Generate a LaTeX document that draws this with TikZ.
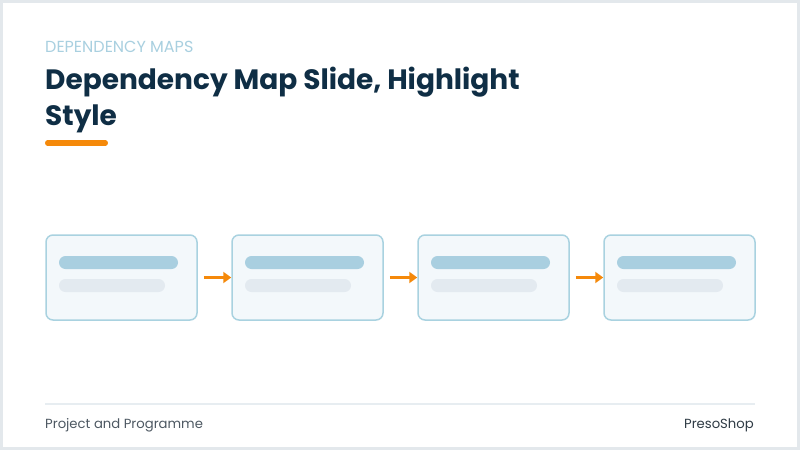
\documentclass[tikz,border=0pt]{standalone}
\usepackage{fontspec}
\setmainfont{Poppins}
\usetikzlibrary{arrows.meta}
\definecolor{navy}{HTML}{0F2E45}
\definecolor{kicker}{HTML}{A9D0E0}
\definecolor{accent}{HTML}{F5890A}
\definecolor{cardline}{HTML}{A9D2E0}
\definecolor{cardfill}{HTML}{F3F8FB}
\definecolor{barone}{HTML}{A9CFE0}
\definecolor{bartwo}{HTML}{E3EAF0}
\definecolor{rulegray}{HTML}{E7EDF1}
\definecolor{footgray}{HTML}{4D5862}
\definecolor{brandgray}{HTML}{2F3B45}
\definecolor{framegray}{HTML}{E3E8EC}
\tikzset{
  card/.style={draw=cardline, line width=1.5pt, fill=cardfill, rounded corners=7pt,
    minimum width=151pt, minimum height=85pt, inner sep=0pt},
  bar/.style={fill=barone, rounded corners=6.5pt, minimum width=119pt, minimum height=13pt, inner sep=0pt},
  subbar/.style={fill=bartwo, rounded corners=6.5pt, minimum width=106pt, minimum height=13pt, inner sep=0pt},
  flow/.style={draw=accent, line width=3pt, shorten <=6pt, -{Triangle[length=8pt,width=11pt]}},
}
\begin{document}
\begin{tikzpicture}[x=1pt,y=-1pt]
\useasboundingbox (0,0) rectangle (800,450);
\fill[white] (0,0) rectangle (800,450);
\draw[framegray, line width=3pt] (1.5,1.5) rectangle (798.5,448.5);
% heading
\node[anchor=base west, inner sep=0pt, text=kicker, font=\fontsize{16}{19}\selectfont] (kick) at (45,52) {DEPENDENCY MAPS};
\node[anchor=base west, inner sep=0pt, text=navy, font=\fontsize{28}{36}\bfseries\selectfont] (title1) at (45,89.5) {Dependency Map Slide, Highlight};
\node[anchor=base west, inner sep=0pt, text=navy, font=\fontsize{28}{36}\bfseries\selectfont] (title2) at (45,125) {Style};
\draw[accent, line width=5.5pt, line cap=round] (47.75,143) -- (105.25,143);
% cards
\node[card] (card1) at (121.5,277.5){};
\node[bar] (bar1) at (118.5,262.5){};
\node[subbar] (sub1) at (112,285.5){};
\node[card] (card2) at (307.5,277.5){};
\node[bar] (bar2) at (304.5,262.5){};
\node[subbar] (sub2) at (298,285.5){};
\node[card] (card3) at (493.5,277.5){};
\node[bar] (bar3) at (490.5,262.5){};
\node[subbar] (sub3) at (484,285.5){};
\node[card] (card4) at (679.5,277.5){};
\node[bar] (bar4) at (676.5,262.5){};
\node[subbar] (sub4) at (670,285.5){};
\draw[flow] (card1) -- (card2);
\draw[flow] (card2) -- (card3);
\draw[flow] (card3) -- (card4);
% footer
\draw[rulegray, line width=2pt] (45,404) -- (755,404);
\node[anchor=base west, inner sep=0pt, text=footgray, font=\fontsize{13.2}{15}\selectfont] (foot) at (45,428.5) {Project and Programme};
\node[anchor=base east, inner sep=0pt, text=brandgray, font=\fontsize{13.2}{15}\selectfont] (brand) at (754,428.5) {PresoShop};
\end{tikzpicture}
\end{document}
